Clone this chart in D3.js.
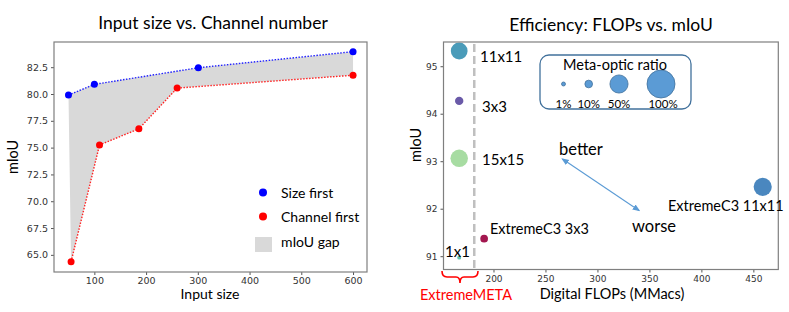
<!DOCTYPE html>
<html><head><meta charset="utf-8">
<script src="https://cdn.jsdelivr.net/npm/d3@7"></script>
<style>
body{margin:0;background:#fff;}
svg{display:block;}
.lbl{font-family:Lato, "Open Sans", sans-serif;fill:#000;}
.tick text{font-family:"DejaVu Sans", sans-serif;fill:#333;}
</style></head>
<body>
<svg id="c" width="789" height="312"></svg>
<script>
// ---------- Left chart data ----------
const sizeFirstX = [50, 100, 301, 600];
const sizeFirstY = [79.9, 80.9, 82.45, 83.95];
const channelFirstX = [55, 110, 186, 260, 600];
const channelFirstY = [64.35, 75.25, 76.75, 80.55, 81.75];
const leftXTicks = [100, 200, 300, 400, 500, 600];
const leftYTicks = [65.0, 67.5, 70.0, 72.5, 75.0, 77.5, 80.0, 82.5];
const leftLegend = ["Size first", "Channel first", "mIoU gap"];

// ---------- Right chart data ----------
const bubbleNames = ["11x11", "3x3", "15x15", "1x1", "ExtremeC3 3x3", "ExtremeC3 11x11"];
const bubbleFlops = [167, 167, 167, 167, 191, 459];
const bubbleMiou = [95.32, 94.27, 93.06, 90.97, 91.37, 92.46];
const bubbleRatio = [0.36, 0.09, 0.39, 0.02, 0.075, 0.42];
const bubbleColors = ["#4a9bb9", "#6a5aa8", "#a7dca2", "#61c3b0", "#a3174f", "#4a87bf"];
const rightXTicks = [200, 250, 300, 350, 400, 450];
const rightYTicks = [91, 92, 93, 94, 95];
const ratioLegend = [0.02, 0.075, 0.42, 1.00];
const ratioLegendLabels = ["1%", "10%", "50%", "100%"];
const dividerFlops = 181.5;

const svg = d3.select("#c");

// ================= LEFT =================
{
  const L = 54, R = 367, T = 42, B = 272;
  const x = d3.scaleLinear().domain([22, 627]).range([L, R]);
  const y = d3.scaleLinear().domain([63.4, 84.85]).range([B, T]);
  const g = svg.append("g");

  const blue = sizeFirstX.map((v, i) => [x(v), y(sizeFirstY[i])]);
  const red = channelFirstX.map((v, i) => [x(v), y(channelFirstY[i])]);
  const poly = blue.concat(red.slice().reverse());
  g.append("path").attr("d", "M" + poly.join("L") + "Z").attr("fill", "#d9d9d9");

  const line = d3.line();
  g.append("path").attr("d", line(blue)).attr("fill", "none").attr("stroke", "#2222ff")
    .attr("stroke-width", 1.4).attr("stroke-dasharray", "1.5,1.5");
  g.append("path").attr("d", line(red)).attr("fill", "none").attr("stroke", "#ff2222")
    .attr("stroke-width", 1.4).attr("stroke-dasharray", "1.5,1.5");
  g.selectAll("circle.b").data(blue).join("circle").attr("cx", d => d[0]).attr("cy", d => d[1])
    .attr("r", 3.5).attr("fill", "#0000ff");
  g.selectAll("circle.r").data(red).join("circle").attr("cx", d => d[0]).attr("cy", d => d[1])
    .attr("r", 3.5).attr("fill", "#ff0000");

  const xa = g.append("g").attr("transform", `translate(0,${B})`)
    .call(d3.axisBottom(x).tickValues(leftXTicks).tickSize(3).tickPadding(2).tickFormat(d3.format("d")));
  const ya = g.append("g").attr("transform", `translate(${L},0)`)
    .call(d3.axisLeft(y).tickValues(leftYTicks).tickSize(3).tickPadding(3).tickFormat(d3.format(".1f")));
  [xa, ya].forEach(a => {
    a.select(".domain").remove();
    a.selectAll("line").attr("stroke", "#555");
    a.selectAll("text").attr("font-size", 9.5);
  });
  g.append("rect").attr("x", L).attr("y", T).attr("width", R - L).attr("height", B - T)
    .attr("fill", "none").attr("stroke", "#7f7f7f").attr("stroke-width", 1.2);

  g.append("text").attr("class", "lbl").attr("x", 213).attr("y", 29).attr("text-anchor", "middle")
    .attr("font-size", 17.5).text("Input size vs. Channel number");
  g.append("text").attr("class", "lbl").attr("x", 210).attr("y", 299).attr("text-anchor", "middle")
    .attr("font-size", 14).text("Input size");
  g.append("text").attr("class", "lbl").attr("transform", "translate(18,157) rotate(-90)")
    .attr("text-anchor", "middle").attr("font-size", 14.5).text("mIoU");

  // legend
  const lg = g.append("g");
  lg.append("circle").attr("cx", 263).attr("cy", 192.5).attr("r", 4).attr("fill", "#0000ff");
  lg.append("circle").attr("cx", 263).attr("cy", 216.5).attr("r", 4).attr("fill", "#ff0000");
  lg.append("rect").attr("x", 255).attr("y", 237).attr("width", 17).attr("height", 15).attr("fill", "#d9d9d9");
  leftLegend.forEach((t, i) => {
    lg.append("text").attr("class", "lbl").attr("x", 281).attr("y", 197.5 + i * 24.5)
      .attr("font-size", 14).text(t);
  });
}

// ================= RIGHT =================
{
  const L = 443.5, R = 778.3, T = 42, B = 269.5;
  const x = d3.scaleLinear().domain([151.9, 474]).range([L, R]);
  const y = d3.scaleLinear().domain([90.72, 95.51]).range([B, T]);
  const rs = d3.scaleSqrt().domain([0, 1]).range([0, 14]);
  const g = svg.append("g");

  g.append("line").attr("x1", x(dividerFlops)).attr("x2", x(dividerFlops)).attr("y1", T + 2).attr("y2", B)
    .attr("stroke", "#bfbfbf").attr("stroke-width", 2.5).attr("stroke-dasharray", "8,4");

  bubbleNames.forEach((n, i) => {
    g.append("circle").attr("cx", x(bubbleFlops[i])).attr("cy", y(bubbleMiou[i]))
      .attr("r", rs(bubbleRatio[i]))
      .attr("fill", bubbleColors[i]);
  });

  const xa = g.append("g").attr("transform", `translate(0,${B})`)
    .call(d3.axisBottom(x).tickValues(rightXTicks).tickSize(3).tickPadding(3).tickFormat(d3.format("d")));
  const ya = g.append("g").attr("transform", `translate(${L},0)`)
    .call(d3.axisLeft(y).tickValues(rightYTicks).tickSize(3).tickPadding(3).tickFormat(d3.format("d")));
  [xa, ya].forEach(a => {
    a.select(".domain").remove();
    a.selectAll("line").attr("stroke", "#555");
    a.selectAll("text").attr("font-size", 9);
  });
  g.append("rect").attr("x", L).attr("y", T).attr("width", R - L).attr("height", B - T)
    .attr("fill", "none").attr("stroke", "#7f7f7f").attr("stroke-width", 1.2);

  // bubble labels
  const labelPos = [[480, 62], [482, 112], [482, 165], [445, 257], [490, 234], [668, 211]];
  bubbleNames.forEach((n, i) => {
    g.append("text").attr("class", "lbl").attr("x", labelPos[i][0]).attr("y", labelPos[i][1])
      .attr("font-size", i >= 4 ? 14.5 : 15).text(n);
  });

  // arrow
  const defs = svg.append("defs");
  defs.append("marker").attr("id", "ah").attr("viewBox", "0 0 10 10").attr("refX", 8).attr("refY", 5)
    .attr("markerWidth", 7).attr("markerHeight", 7).attr("orient", "auto-start-reverse")
    .append("path").attr("d", "M0,1L10,5L0,9Z").attr("fill", "#5b9bd5");
  g.append("line").attr("x1", 562.5).attr("y1", 159).attr("x2", 639).attr("y2", 210.5)
    .attr("stroke", "#5b9bd5").attr("stroke-width", 1.1)
    .attr("marker-start", "url(#ah)").attr("marker-end", "url(#ah)");
  g.append("text").attr("class", "lbl").attr("x", 559).attr("y", 155).attr("font-size", 16.5).text("better");
  g.append("text").attr("class", "lbl").attr("x", 632).attr("y", 232).attr("font-size", 16.5).text("worse");

  // ratio legend
  g.append("rect").attr("x", 540).attr("y", 55).attr("width", 151).attr("height", 54).attr("rx", 9)
    .attr("fill", "#fff").attr("stroke", "#41719c").attr("stroke-width", 1.3);
  g.append("text").attr("class", "lbl").attr("x", 615).attr("y", 70).attr("text-anchor", "middle")
    .attr("font-size", 14.5).text("Meta-optic ratio");
  const lx = [563.5, 588.7, 619, 661];
  ratioLegend.forEach((v, i) => {
    g.append("circle").attr("cx", lx[i]).attr("cy", 84).attr("r", rs(v))
      .attr("fill", "#5b9bd5").attr("stroke", "#41719c").attr("stroke-width", 0.8);
    g.append("text").attr("class", "lbl").attr("x", lx[i] + (i === 3 ? 2 : 0)).attr("y", 107.5)
      .attr("text-anchor", "middle").attr("font-size", 11.5).text(ratioLegendLabels[i]);
  });

  // titles
  g.append("text").attr("class", "lbl").attr("x", 611).attr("y", 31).attr("text-anchor", "middle")
    .attr("font-size", 17.5).text("Efficiency: FLOPs vs. mIoU");
  g.append("text").attr("class", "lbl").attr("x", 612).attr("y", 299).attr("text-anchor", "middle")
    .attr("font-size", 14.5).text("Digital FLOPs (MMacs)");
  g.append("text").attr("class", "lbl").attr("transform", "translate(421,145) rotate(-90)")
    .attr("text-anchor", "middle").attr("font-size", 14.5).text("mIoU");

  // brace
  const bx0 = 442, bx1 = 478, by = 271, bm = (bx0 + bx1) / 2;
  g.append("path").attr("d",
    `M${bx0},${by} Q${bx0},${by + 6} ${bx0 + 5},${by + 6} L${bm - 4},${by + 6} Q${bm},${by + 6} ${bm},${by + 12}` +
    ` M${bx1},${by} Q${bx1},${by + 6} ${bx1 - 5},${by + 6} L${bm + 4},${by + 6} Q${bm},${by + 6} ${bm},${by + 12}`)
    .attr("fill", "none").attr("stroke", "#ff0000").attr("stroke-width", 1.6);
  g.append("text").attr("class", "lbl").attr("x", 466).attr("y", 300).attr("text-anchor", "middle")
    .attr("font-size", 14.5).style("fill", "#ff0000").text("ExtremeMETA");
}
</script>
</body></html>
